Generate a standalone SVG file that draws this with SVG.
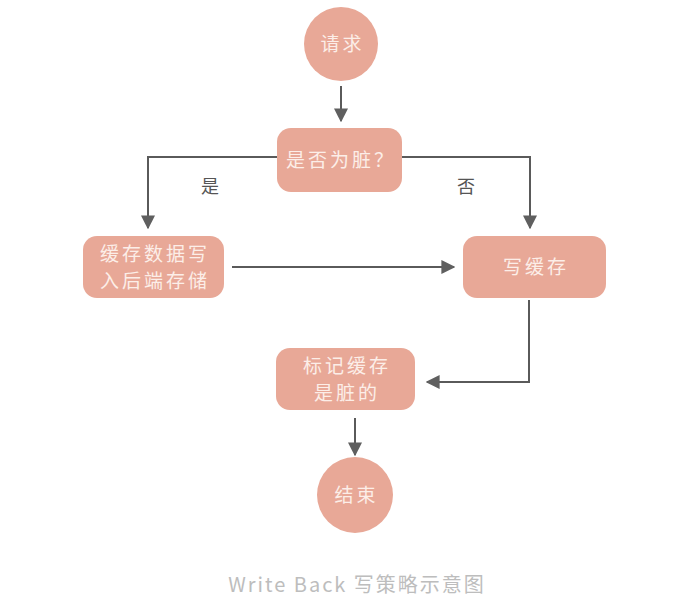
<svg xmlns="http://www.w3.org/2000/svg" width="682" height="607" viewBox="0 0 682 607">
<style>
.n{fill:#E8A897;}
.t{font-family:"Noto Sans CJK SC","Liberation Sans",sans-serif;font-size:19px;fill:#FCEEE8;text-anchor:middle;letter-spacing:3px;}
.l{font-family:"Noto Sans CJK SC","Liberation Sans",sans-serif;font-size:18px;fill:#555;text-anchor:middle;}
.c{fill:none;stroke:#5a5a5a;stroke-width:2;}
.cap{font-family:"Noto Sans CJK SC","Liberation Sans",sans-serif;font-size:20px;fill:#BDBDBD;text-anchor:middle;letter-spacing:2px;}
</style>
<defs>
<marker id="a" viewBox="0 0 10 10" refX="9" refY="5" markerWidth="14" markerHeight="14" markerUnits="userSpaceOnUse" orient="auto">
<path d="M0,0 L10,5 L0,10 Z" fill="#5f5f5f"/>
</marker>
</defs>
<rect width="682" height="607" fill="#fff"/>
<g id="connectors">
<path class="c" d="M341,86 V121" marker-end="url(#a)"/>
<path class="c" d="M277,157 H148 V228" marker-end="url(#a)"/>
<path class="c" d="M402,157 H530 V228" marker-end="url(#a)"/>
<path class="c" d="M232,267 H454" marker-end="url(#a)"/>
<path class="c" d="M529,300 V382 H427" marker-end="url(#a)"/>
<path class="c" d="M355,418 V455" marker-end="url(#a)"/>
<text class="l" x="210" y="193">是</text>
<text class="l" x="466" y="193">否</text>
</g>
<g id="start"><circle class="n" cx="341" cy="44" r="37"/><text class="t" x="342.5" y="51">请求</text></g>
<g id="dirty"><rect class="n" x="277" y="128" width="125" height="64" rx="14"/><text class="t" x="341" y="167">是否为脏？</text></g>
<g id="writeback"><rect class="n" x="83" y="236" width="141" height="62" rx="14"/><text class="t" x="155" y="261">缓存数据写</text><text class="t" x="155" y="288">入后端存储</text></g>
<g id="writecache"><rect class="n" x="463" y="236" width="143" height="62" rx="14"/><text class="t" x="536" y="274">写缓存</text></g>
<g id="mark"><rect class="n" x="276" y="348" width="139" height="62" rx="14"/><text class="t" x="347" y="373">标记缓存</text><text class="t" x="347" y="400">是脏的</text></g>
<g id="end"><circle class="n" cx="355" cy="495" r="38"/><text class="t" x="356.5" y="502">结束</text></g>
<text class="cap" x="357" y="592">Write Back 写策略示意图</text>
</svg>
